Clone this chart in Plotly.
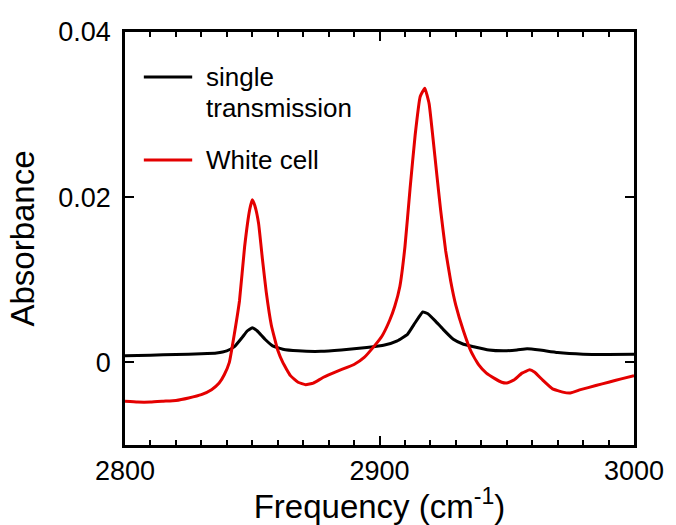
import plotly.graph_objects as go

# Single transmission (black)
freq_single = [2800, 2810, 2820, 2830, 2836, 2840, 2843, 2846, 2848, 2850, 2852, 2855, 2858, 2862,
               2868, 2877, 2885, 2895, 2902, 2907, 2911, 2914, 2917, 2919, 2922, 2925, 2929, 2933,
               2937, 2943, 2949, 2954, 2958, 2963, 2970, 2980, 2990, 3000]
abs_single = [0.00082, 0.00088, 0.00095, 0.00105, 0.00115, 0.0014, 0.0019, 0.0030, 0.0038, 0.0042,
              0.0038, 0.0028, 0.0020, 0.0016, 0.0014, 0.00134, 0.0015, 0.0018, 0.0021, 0.0026,
              0.0034, 0.0048, 0.0061, 0.0059, 0.0050, 0.0040, 0.0028, 0.0022, 0.0019, 0.0015,
              0.0014, 0.0015, 0.00165, 0.0015, 0.0012, 0.0010, 0.00097, 0.00098]

# White cell (red)
freq_white = [2800, 2805, 2810, 2815, 2820, 2825, 2830, 2834, 2837, 2839, 2841, 2843, 2845, 2847,
              2849, 2850, 2851, 2852.5, 2854, 2855.5, 2857.5, 2860, 2862, 2865, 2868, 2871, 2874,
              2878, 2884, 2890, 2894, 2898, 2901, 2904, 2906, 2908, 2910, 2912, 2914, 2916, 2917.8,
              2919.5, 2921, 2922.5, 2924, 2926, 2928, 2930, 2933, 2936, 2939, 2942, 2945, 2948,
              2950, 2953, 2956, 2959, 2961, 2964, 2968, 2972, 2975, 2979, 2985, 2990, 2995, 3000]
abs_white = [-0.0047, -0.0048, -0.0048, -0.0047, -0.0046, -0.0043, -0.0039, -0.0033, -0.0025,
             -0.0015, 0.0, 0.0035, 0.0075, 0.0140, 0.0185, 0.0197, 0.0190, 0.0168, 0.0125, 0.0085,
             0.0045, 0.0015, 0.0, -0.0016, -0.0024, -0.0027, -0.0025, -0.0018, -0.0010, -0.00025,
             0.0006, 0.0020, 0.0032, 0.0051, 0.0068, 0.0092, 0.0140, 0.0210, 0.0275, 0.0322,
             0.0332, 0.0313, 0.0272, 0.0228, 0.0185, 0.0135, 0.0098, 0.0069, 0.0038, 0.0013,
             -0.0003, -0.0013, -0.0019, -0.0024, -0.0025, -0.0021, -0.0013, -0.0009, -0.0012,
             -0.0021, -0.0032, -0.0036, -0.0037, -0.0033, -0.0028, -0.0024, -0.0020, -0.0016]

x_ticks = [2800, 2900, 3000]
y_ticks = [0, 0.02, 0.04]
y_ticktext = ["0", "0.02", "0.04"]

RED = "rgb(228,0,0)"
FONT = "Liberation Sans, Arial, sans-serif"

fig = go.Figure()
fig.add_trace(go.Scatter(x=freq_single, y=abs_single, mode="lines", name="single transmission",
                         line=dict(color="black", width=3, shape="spline", smoothing=0.35)))
fig.add_trace(go.Scatter(x=freq_white, y=abs_white, mode="lines", name="White cell",
                         line=dict(color=RED, width=3, shape="spline", smoothing=0.35)))

# legend drawn manually
fig.add_shape(type="line", xref="paper", yref="paper", x0=0.037, x1=0.132, y0=0.891, y1=0.891,
              line=dict(color="black", width=3))
fig.add_shape(type="line", xref="paper", yref="paper", x0=0.037, x1=0.132, y0=0.690, y1=0.690,
              line=dict(color=RED, width=3))
fig.add_annotation(xref="paper", yref="paper", x=0.155, y=0.891, xanchor="left", yanchor="middle",
                   text="single", showarrow=False, font=dict(size=26, color="black", family=FONT))
fig.add_annotation(xref="paper", yref="paper", x=0.155, y=0.815, xanchor="left", yanchor="middle",
                   text="transmission", showarrow=False, font=dict(size=26, color="black", family=FONT))
fig.add_annotation(xref="paper", yref="paper", x=0.155, y=0.690, xanchor="left", yanchor="middle",
                   text="White cell", showarrow=False, font=dict(size=26, color="black", family=FONT))

fig.update_layout(
    width=676, height=525,
    margin=dict(l=125, r=35, t=32, b=71),
    paper_bgcolor="white", plot_bgcolor="white",
    showlegend=False,
    font=dict(family=FONT, color="black"),
)
fig.update_xaxes(
    range=[2800, 3000], tickvals=x_ticks, ticks="inside", ticklen=9, tickwidth=2,
    tickcolor="black", showline=True, linecolor="black", linewidth=2.5, mirror="ticks",
    showgrid=False, zeroline=False, tickfont=dict(size=27),
    minor=dict(dtick=10, tick0=2800, ticks="inside", ticklen=5, tickwidth=2, tickcolor="black", showgrid=False),
    title=dict(text="Frequency (cm<sup>-1</sup>)", font=dict(size=33), standoff=4),
)
fig.update_yaxes(
    range=[-0.01, 0.04], tickvals=y_ticks, ticktext=y_ticktext, ticks="inside", ticklen=9,
    tickwidth=2, tickcolor="black", showline=True, linecolor="black", linewidth=2.5,
    mirror="ticks", showgrid=False, zeroline=False, tickfont=dict(size=27), ticklabelstandoff=6,
    title=dict(text="Absorbance", font=dict(size=33), standoff=14),
)

fig.write_html("out.html")
